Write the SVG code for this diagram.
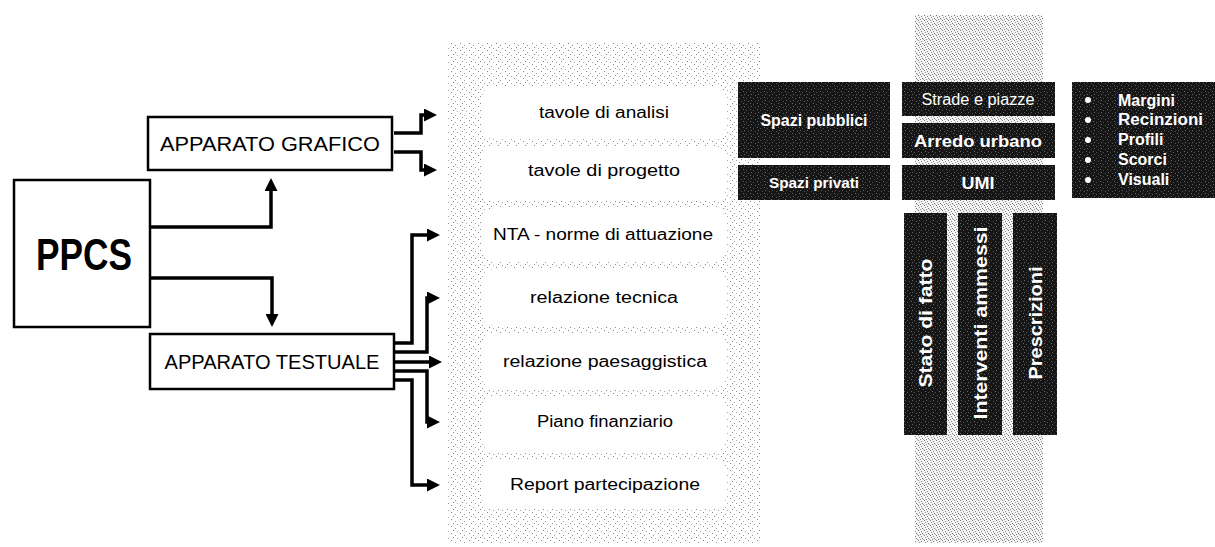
<svg xmlns="http://www.w3.org/2000/svg" width="1215" height="547" viewBox="0 0 1215 547">
<defs>
<pattern id="light" width="9" height="7" patternUnits="userSpaceOnUse">
<rect x="1" y="1" width="1" height="1" fill="#888"/><rect x="5" y="3" width="1" height="1" fill="#999"/><rect x="3" y="5" width="1" height="1" fill="#888"/><rect x="7" y="6" width="1" height="1" fill="#aaa"/>
</pattern>
<pattern id="dense" width="6" height="5" patternUnits="userSpaceOnUse">
<rect width="6" height="5" fill="#f4f4f4"/>
<rect x="0" y="0" width="1" height="1" fill="#777"/><rect x="3" y="1" width="1" height="1" fill="#888"/><rect x="1" y="2" width="1" height="1" fill="#999"/><rect x="4" y="3" width="1" height="1" fill="#777"/><rect x="2" y="4" width="1" height="1" fill="#888"/><rect x="5" y="4" width="1" height="1" fill="#aaa"/>
</pattern>
<pattern id="speck" width="7" height="6" patternUnits="userSpaceOnUse">
<rect width="7" height="6" fill="#161616"/>
<rect x="1" y="1" width="1" height="1" fill="#666"/><rect x="4" y="2" width="1" height="1" fill="#555"/><rect x="2" y="4" width="1" height="1" fill="#666"/><rect x="6" y="5" width="1" height="1" fill="#555"/>
</pattern>
<marker id="ah" markerUnits="userSpaceOnUse" markerWidth="14" markerHeight="13" refX="4" refY="6.5" orient="auto" viewBox="0 0 14 13">
<path d="M0,0 L13,6.5 L0,13 z" fill="#000"/>
</marker>
</defs>
<style>
.box{fill:#fff;stroke:#000;stroke-width:2.5}
.lbl{font-family:"Liberation Sans",Arial,sans-serif;fill:#000;text-anchor:middle}
.item{font-family:"Liberation Sans",Arial,sans-serif;font-size:16px;fill:#000;text-anchor:middle}
.dk{fill:url(#speck)}
.wt{font-family:"Liberation Sans",Arial,sans-serif;fill:#fff;text-anchor:middle;font-weight:bold}
.li{font-family:"Liberation Sans",Arial,sans-serif;fill:#fff;font-weight:bold;font-size:16px}
.row{fill:#fff}
.conn{fill:none;stroke:#000;stroke-width:3.5;stroke-linejoin:miter}
</style>
<rect width="1215" height="547" fill="#fff"/>

<g id="column-documents">
<rect x="447" y="42" width="313" height="501" fill="url(#light)"/>
<rect class="row" x="482" y="86" width="244" height="53" rx="12"/>
<rect class="row" x="482" y="146" width="244" height="55" rx="12"/>
<rect class="row" x="482" y="208" width="244" height="54" rx="12"/>
<rect class="row" x="482" y="269" width="244" height="57" rx="12"/>
<rect class="row" x="482" y="333" width="244" height="56" rx="12"/>
<rect class="row" x="482" y="396" width="244" height="56" rx="12"/>
<rect class="row" x="482" y="459" width="244" height="50" rx="12"/>
</g>

<g id="column-umi">
<rect x="915" y="15" width="128" height="528" fill="url(#dense)"/>
</g>

<g id="ppcs">
<rect class="box" x="14" y="180" width="136" height="147"/>
<text class="lbl" x="84" y="270" font-size="44" font-weight="bold" textLength="96" lengthAdjust="spacingAndGlyphs">PPCS</text>
</g>

<g id="apparato-grafico">
<rect class="box" x="148" y="117" width="244" height="53"/>
<text class="lbl" x="270" y="151" font-size="20" textLength="220" lengthAdjust="spacingAndGlyphs">APPARATO GRAFICO</text>
</g>

<g id="apparato-testuale">
<rect class="box" x="150" y="334" width="244" height="55"/>
<text class="lbl" x="272" y="369" font-size="20" textLength="215" lengthAdjust="spacingAndGlyphs">APPARATO TESTUALE</text>
</g>

<g id="doc-items">
<text class="item" x="604" y="118" textLength="130" lengthAdjust="spacingAndGlyphs">tavole di analisi</text>
<text class="item" x="604" y="176" textLength="152" lengthAdjust="spacingAndGlyphs">tavole di progetto</text>
<text class="item" x="603" y="240" textLength="220" lengthAdjust="spacingAndGlyphs">NTA - norme di attuazione</text>
<text class="item" x="604" y="303" textLength="148" lengthAdjust="spacingAndGlyphs">relazione tecnica</text>
<text class="item" x="605" y="367" textLength="204" lengthAdjust="spacingAndGlyphs">relazione paesaggistica</text>
<text class="item" x="605" y="427" textLength="136" lengthAdjust="spacingAndGlyphs">Piano finanziario</text>
<text class="item" x="605" y="490" textLength="190" lengthAdjust="spacingAndGlyphs">Report partecipazione</text>
</g>

<g id="spazi-pubblici">
<rect class="dk" x="738" y="82" width="152" height="76"/>
<text class="wt" x="814" y="126" font-size="16" textLength="107" lengthAdjust="spacingAndGlyphs">Spazi pubblici</text>
</g>
<g id="spazi-privati">
<rect class="dk" x="738" y="165" width="152" height="35"/>
<text class="wt" x="814" y="188" font-size="15" textLength="90" lengthAdjust="spacingAndGlyphs">Spazi privati</text>
</g>
<g id="strade-piazze">
<rect class="dk" x="902" y="82" width="153" height="34"/>
<text class="wt" x="978" y="105" font-size="16" style="font-weight:normal" textLength="113" lengthAdjust="spacingAndGlyphs">Strade e piazze</text>
</g>
<g id="arredo-urbano">
<rect class="dk" x="902" y="123" width="153" height="35"/>
<text class="wt" x="978" y="147" font-size="17" textLength="128" lengthAdjust="spacingAndGlyphs">Arredo urbano</text>
</g>
<g id="umi">
<rect class="dk" x="902" y="165" width="153" height="35"/>
<text class="wt" x="978" y="189" font-size="17" textLength="33" lengthAdjust="spacingAndGlyphs">UMI</text>
</g>
<g id="elementi">
<rect class="dk" x="1072" y="82" width="143" height="116"/>
<circle cx="1088" cy="100" r="3" fill="#fff"/>
<circle cx="1088" cy="120" r="3" fill="#fff"/>
<circle cx="1088" cy="140" r="3" fill="#fff"/>
<circle cx="1088" cy="160" r="3" fill="#fff"/>
<circle cx="1088" cy="180" r="3" fill="#fff"/>
<text class="li" x="1118" y="106">Margini</text>
<text class="li" x="1118" y="125" textLength="85" lengthAdjust="spacingAndGlyphs">Recinzioni</text>
<text class="li" x="1118" y="145">Profili</text>
<text class="li" x="1118" y="165">Scorci</text>
<text class="li" x="1118" y="185">Visuali</text>
</g>
<g id="stato-di-fatto">
<rect class="dk" x="904" y="213" width="43" height="222"/>
<text class="wt" transform="translate(932,323) rotate(-90)" font-size="19" textLength="129" lengthAdjust="spacingAndGlyphs">Stato di fatto</text>
</g>
<g id="interventi-ammessi">
<rect class="dk" x="958" y="213" width="44" height="222"/>
<text class="wt" transform="translate(987,323) rotate(-90)" font-size="19" textLength="193" lengthAdjust="spacingAndGlyphs">Interventi ammessi</text>
</g>
<g id="prescrizioni">
<rect class="dk" x="1013" y="213" width="44" height="222"/>
<text class="wt" transform="translate(1042,323) rotate(-90)" font-size="19" textLength="113" lengthAdjust="spacingAndGlyphs">Prescrizioni</text>
</g>

<g id="connectors">
<path class="conn" d="M150,227 H271 V187" marker-end="url(#ah)"/>
<path class="conn" d="M150,278 H272 V318" marker-end="url(#ah)"/>
<path class="conn" d="M394,133 H421 V115 H428" marker-end="url(#ah)"/>
<path class="conn" d="M394,152 H421 V170 H428" marker-end="url(#ah)"/>
<path class="conn" d="M395,343 H412 V235 H431" marker-end="url(#ah)"/>
<path class="conn" d="M395,352 H427 V298 H431" marker-end="url(#ah)"/>
<path class="conn" d="M395,362 H433" marker-end="url(#ah)"/>
<path class="conn" d="M395,371 H427 V422 H431" marker-end="url(#ah)"/>
<path class="conn" d="M395,380 H412 V485 H431" marker-end="url(#ah)"/>
</g>
</svg>
